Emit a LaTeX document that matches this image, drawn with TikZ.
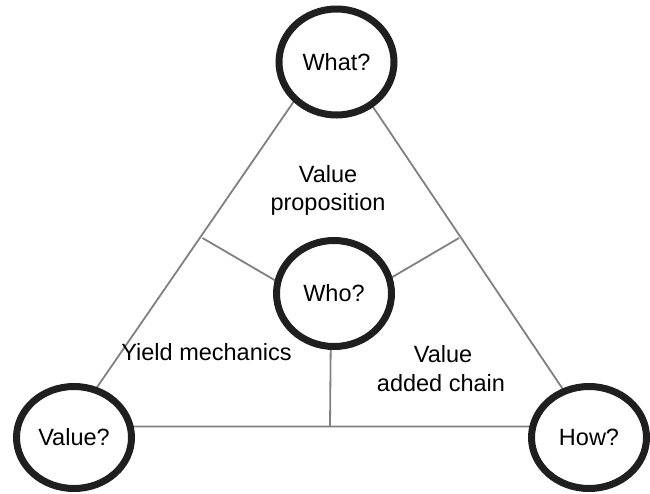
\documentclass[tikz,border=0pt]{standalone}
\usepackage{fontspec}
\setmainfont{Liberation Sans}
\usetikzlibrary{shapes.geometric}
\begin{document}
\begin{tikzpicture}[x=1pt,y=-1pt,
  every node/.style={font=\fontsize{23.5}{28}\selectfont, text=black},
  ring/.style={ellipse, draw=black!88, line width=7pt, fill=white,
    minimum width=115pt, minimum height=106pt, inner sep=0pt},
  edge/.style={draw={rgb,255:red,128;green,128;blue,128}, line width=1.8pt},
  caption/.style={anchor=base, inner sep=0pt}]
  \useasboundingbox (0,0) rectangle (650,493);

  % triangle corners and the points where the inner dividers meet the sides
  \coordinate (apex) at (332,46);
  \coordinate (bl) at (70,426.5);
  \coordinate (br) at (588,426.5);
  \coordinate (ml) at (202.5,238);
  \coordinate (mr) at (459,238);
  \coordinate (mb) at (330,426.5);
  \coordinate (hub) at (331,313);

  % outer triangle and the three dividers
  \draw[edge] (apex) -- (bl) -- (br) -- cycle;
  \draw[edge] (ml) -- (hub) -- (mr);
  \draw[edge] (hub) -- (mb);

  % circles
  \node[ring] (what) at (336.5,62) {What?};
  \node[ring] (who) at (334,293.5) {Who?};
  \node[ring, minimum height=102pt] (value) at (74,437.5) {Value?};
  \node[ring, minimum height=102pt] (how) at (589,437.5) {How?};

  % area captions
  \node[caption] (vp1) at (328,182) {Value};
  \node[caption] (vp2) at (328,210) {proposition};
  \node[caption] (ym) at (206.5,360) {Yield mechanics};
  \node[caption] (va1) at (443,362) {Value};
  \node[caption] (va2) at (441,391) {added chain};
\end{tikzpicture}
\end{document}
